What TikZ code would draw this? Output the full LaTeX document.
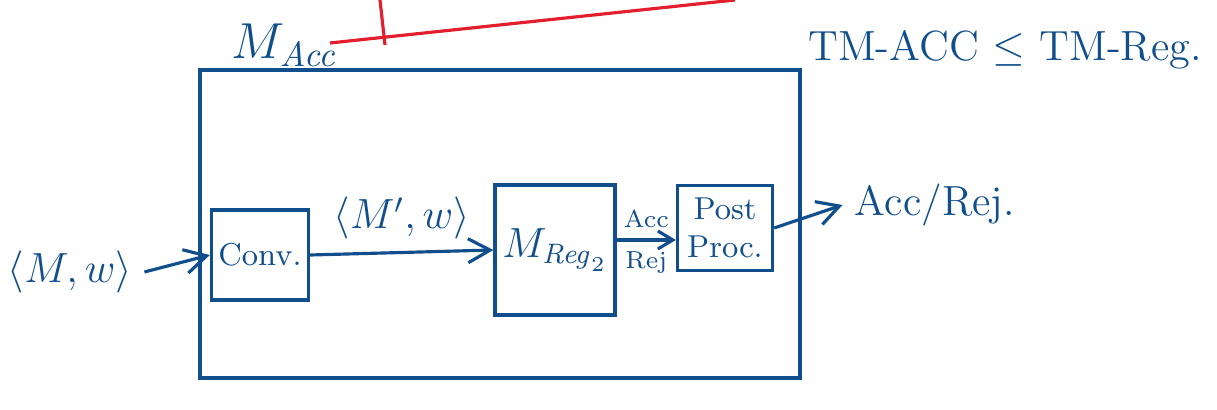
\documentclass[tikz,border=0pt]{standalone}
\usetikzlibrary{arrows.meta}
\definecolor{ink}{RGB}{16,78,140}
\definecolor{redink}{RGB}{228,30,45}

\begin{document}
\begin{tikzpicture}[
  ink/.style={color=ink, line width=0.9pt},
  inkbox/.style={draw=ink, line width=0.9pt, text=ink, align=center, inner sep=2pt},
  inktext/.style={text=ink},
  >={Straight Barb[length=2.2mm, width=2.4mm]}
]
  \useasboundingbox (0,0) rectangle (12.17,-4.10);

  % outer machine and its name
  \node[inkbox, minimum width=6cm, minimum height=3.08cm] (macc) at (5.0,-2.24) {};
  \node[inktext, font=\Large] (maccname) at (2.85,-0.45) {$M_{\mathit{Acc}}$};
  \node[inktext, font=\large] (claim) at (10.05,-0.5) {TM-ACC $\leq$ TM-Reg.};

  % red strokes over the name
  \coordinate (r1) at (3.3,-0.43);
  \coordinate (r2) at (7.35,0);
  \coordinate (r3) at (3.8,0);
  \coordinate (r4) at (3.85,-0.45);
  \draw[redink, line width=0.9pt] (r1) -- (r2);
  \draw[redink, line width=0.9pt] (r3) -- (r4);

  % inner boxes
  \node[inkbox, minimum width=0.9cm, minimum height=0.9cm, font=\small] (conv) at (2.6,-2.55) {Conv.};
  \node[inkbox, minimum width=1.2cm, minimum height=1.3cm, inner sep=1pt] (mreg) at (5.55,-2.5) {\large $M_{\mathit{Reg}_2}$};
  \node[inkbox, minimum width=0.95cm, minimum height=0.85cm, font=\small] (post) at (7.25,-2.28) {Post\\ Proc.};

  % input and output texts
  \node[inktext, font=\large] (inp) at (0.7,-2.72) {$\langle M,w\rangle$};
  \node[inktext, font=\large] (out) at (9.35,-2.05) {Acc/Rej.};

  \draw[ink, ->] (inp.east) -- (conv.west);
  \draw[ink, ->] (conv.east) -- node[above, inktext, font=\large] {$\langle M',w\rangle$} (mreg.west);
  \draw[ink, -{Straight Barb[length=1.5mm, width=1.8mm]}] (mreg.east |- 0,-2.4) -- node[above=2pt, inktext, font=\scriptsize, inner sep=1pt] {Acc} node[below=2pt, inktext, font=\scriptsize, inner sep=1pt] {Rej} (post.west |- 0,-2.4);
  \draw[ink, ->] (post.east) -- (out.west);

\end{tikzpicture}
\end{document}
